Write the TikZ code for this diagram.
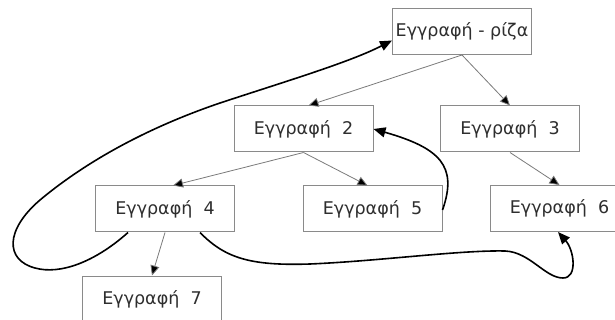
\documentclass[tikz,border=0pt]{standalone}
\usepackage{fontspec}
\setmainfont{DejaVu Sans}
\usetikzlibrary{arrows.meta,calc}
\definecolor{boxgray}{HTML}{8A8A8A}
\definecolor{edgegray}{HTML}{7A7A7A}
\definecolor{txtgray}{HTML}{2E2E2E}
\tikzset{
  rec/.style={draw=boxgray, line width=1pt, fill=white, minimum width=139pt, minimum height=46pt,
    inner sep=0pt, text=txtgray, font=\fontsize{17.5}{21}\selectfont},
  tree/.style={draw=edgegray, line width=0.8pt, -{Triangle[length=10pt,width=9pt,fill=black]}},
  link/.style={draw=black, line width=1.6pt, -{Triangle[length=12pt,width=10pt]}}
}
\begin{document}
\begin{tikzpicture}[x=1pt,y=-1pt]
\useasboundingbox (0,0) rectangle (615,320);
\node[rec] (r) at (462,31.5) {Εγγραφή - ρίζα};
\node[rec] (n2) at (303.5,129) {Εγγραφή\ \ 2};
\node[rec] (n3) at (510,129) {Εγγραφή\ \ 3};
\node[rec] (n4) at (165,209) {Εγγραφή\ \ 4};
\node[rec] (n5) at (372.5,209) {Εγγραφή\ \ 5};
\node[rec] (n6) at (559.5,208.5) {Εγγραφή\ \ 6};
\node[rec] (n7) at (152,299) {Εγγραφή\ \ 7};
% tree edges
\draw[tree] (r.south) -- ([xshift=5pt]n2.north);
\draw[tree] (r.south) -- (n3.north);
\draw[tree] (n2.south) -- ([xshift=8pt]n4.north);
\draw[tree] (n2.south) -- ([xshift=-5pt]n5.north);
\draw[tree] (n3.south) -- (n6.north);
\draw[tree] (n4.south) -- (n7.north);
% links
\coordinate (a0) at ([xshift=-37pt]n4.south);
\coordinate (a1) at ([yshift=14.5pt]r.south west);
\draw[link] (a0) .. controls (95,262) and (60,275) .. (35,268)
  .. controls (5,260) and (5,230) .. (40,200)
  .. controls (100,150) and (170,120) .. (220,103)
  .. controls (290,80) and (350,62) .. (a1);
\coordinate (b0) at ([yshift=-1pt]n5.east);
\draw[link] (b0) .. controls (458,166) and (440,148) .. (n2.east);
\coordinate (c0) at ([xshift=35pt]n4.south);
\coordinate (c1) at ([xshift=-1.5pt]n6.south);
\draw[link] (c0) .. controls (225,258) and (250,266) .. (310,264)
  .. controls (380,261) and (460,250) .. (505,251)
  .. controls (530,252) and (545,278) .. (563,278)
  .. controls (578,278) and (574,250) .. (c1);
\end{tikzpicture}
\end{document}
